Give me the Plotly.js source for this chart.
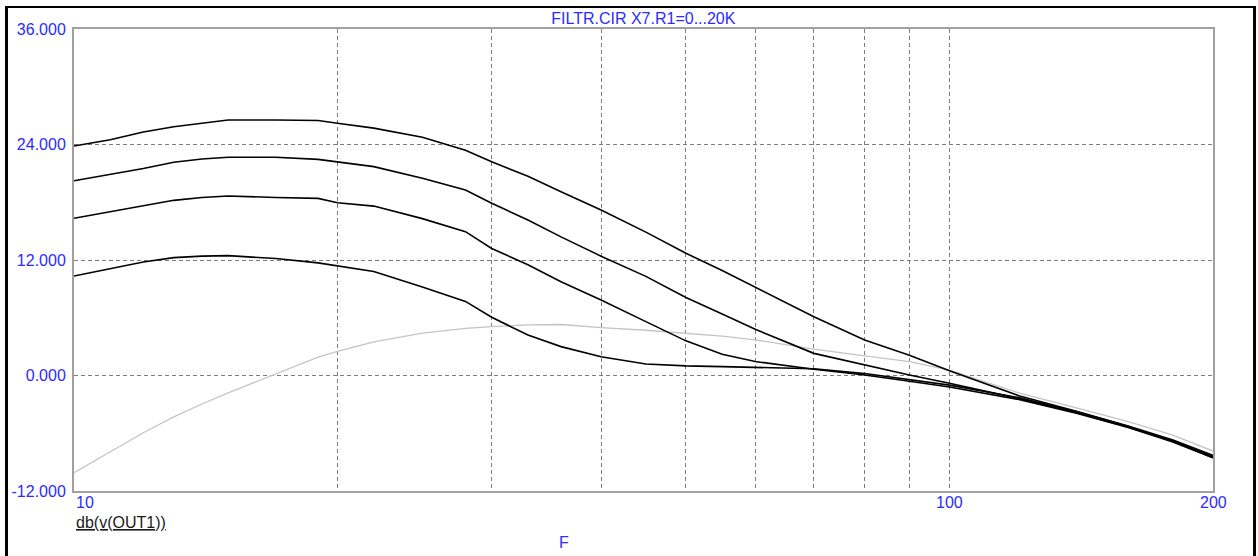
<!DOCTYPE html>
<html>
<head>
<meta charset="utf-8">
<script src="https://cdn.plot.ly/plotly-3.0.1.min.js"></script>
<style>
  html, body { margin: 0; padding: 0; background: #ffffff; overflow: hidden; }
  #chart { position: absolute; left: 0; top: 0; width: 1258px; height: 556px; }
  #frame { position: absolute; left: 5px; top: 6px; width: 1251px; height: 600px;
           box-sizing: border-box; border-left: 3px solid #000; border-right: 3px solid #000;
           border-top: 2px solid #000; pointer-events: none; }
</style>
</head>
<body>
<div id="chart"></div>
<div id="frame"></div>
<script>
// ---- data ----
const freq = [10, 11, 12, 13, 14, 15, 17, 19, 20, 22, 25, 28, 30, 33, 36, 40, 45, 50, 55, 60, 70, 80, 90, 100, 120, 140, 160, 180, 200];

// R1 stepped 0...20K (four black curves, top to bottom)
const dbR1a = [23.84, 24.5, 25.3, 25.85, 26.2, 26.55, 26.55, 26.5, 26.2, 25.7, 24.75, 23.4, 22.2, 20.7, 19.1, 17.2, 14.9, 12.7, 10.9, 9.15, 6.1, 3.7, 2.1, 0.5, -2.1, -3.75, -5.25, -6.7, -8.3];
const dbR1b = [20.24, 20.9, 21.5, 22.15, 22.5, 22.67, 22.67, 22.45, 22.2, 21.7, 20.5, 19.27, 17.9, 16.15, 14.4, 12.4, 10.3, 8.1, 6.4, 4.8, 2.3, 1.1, 0.05, -0.8, -2.4, -3.9, -5.35, -6.8, -8.45];
const dbR1c = [16.33, 17.0, 17.6, 18.2, 18.5, 18.65, 18.5, 18.4, 17.95, 17.6, 16.3, 14.95, 13.2, 11.5, 9.75, 7.85, 5.6, 3.6, 2.2, 1.45, 0.65, 0.05, -0.6, -1.2, -2.5, -3.95, -5.4, -6.9, -8.55];
const dbR1d = [10.34, 11.1, 11.8, 12.25, 12.4, 12.45, 12.15, 11.7, 11.4, 10.8, 9.2, 7.7, 6.05, 4.2, 3.0, 1.95, 1.2, 1.0, 0.92, 0.85, 0.7, 0.2, -0.4, -1.0, -2.3, -3.8, -5.3, -6.85, -8.55];
// light grey curve
const dbGrey = [-10.1, -7.9, -5.95, -4.3, -2.96, -1.8, 0.2, 1.9, 2.5, 3.5, 4.4, 4.9, 5.07, 5.25, 5.3, 4.97, 4.7, 4.4, 4.1, 3.7, 2.75, 2.05, 1.45, 0.55, -1.8, -3.4, -4.8, -6.2, -7.85];

const yTickVals = [-12, 0, 12, 24, 36];
const yTickText = ['-12.000', '0.000', '12.000', '24.000', '36.000'];
const xGridVals = [20, 30, 40, 50, 60, 70, 80, 90, 100];
const xLabelVals = [10, 100, 200];
const xLabelText = ['10', '100', '200'];
const titleText = 'FILTR.CIR X7.R1=0...20K';
const yName = 'db(v(OUT1))';
const xName = 'F';

// ---- styling ----
const FONT = 'Liberation Sans, Arial, sans-serif';
const BLUE = '#2b2bff';
const FS = 16;

const blackLine = { color: '#000000', width: 1.6 };
const traces = [
  { x: freq, y: dbGrey, mode: 'lines', line: { color: '#c4c4c4', width: 1.3 } },
  { x: freq, y: dbR1d, mode: 'lines', line: blackLine },
  { x: freq, y: dbR1c, mode: 'lines', line: blackLine },
  { x: freq, y: dbR1b, mode: 'lines', line: blackLine },
  { x: freq, y: dbR1a, mode: 'lines', line: blackLine }
];

const annotations = xLabelVals.map((v, i) => ({
  text: xLabelText[i], xref: 'x', yref: 'paper', x: Math.log10(v), y: -0.024,
  xanchor: i === 0 ? 'left' : 'center', yanchor: 'middle', showarrow: false,
  font: { family: FONT, size: FS, color: BLUE }
}));
annotations.push({
  text: '<u>' + yName + '</u>', xref: 'paper', yref: 'paper', x: 0, y: -0.069,
  xanchor: 'left', yanchor: 'middle', showarrow: false,
  font: { family: FONT, size: FS, color: '#1a1a1a' }
});
annotations.push({
  text: xName, xref: 'paper', yref: 'paper', x: 0.43, y: -0.112,
  xanchor: 'center', yanchor: 'middle', showarrow: false,
  font: { family: FONT, size: FS, color: BLUE }
});

const layout = {
  width: 1258, height: 556,
  margin: { l: 74, r: 45, t: 29, b: 65, pad: 0 },
  paper_bgcolor: 'rgba(0,0,0,0)', plot_bgcolor: '#ffffff',
  showlegend: false,
  title: { text: titleText, font: { family: FONT, size: FS, color: BLUE },
           x: 0.5114, xref: 'container', xanchor: 'center',
           y: 1 - 18.5 / 556, yref: 'container', yanchor: 'middle' },
  xaxis: {
    type: 'log', range: [Math.log10(10), Math.log10(200)],
    tickvals: xGridVals, showticklabels: false, ticks: '',
    showgrid: true, gridcolor: '#7c7c7c', gridwidth: 1, griddash: '4px,3px',
    showline: true, mirror: true, linecolor: '#a0a0a0', linewidth: 2, zeroline: false
  },
  yaxis: {
    range: [-12, 36], tickvals: yTickVals, ticktext: yTickText, ticks: '',
    tickfont: { family: FONT, size: FS, color: BLUE }, ticklabelstandoff: 3,
    showgrid: true, gridcolor: '#7c7c7c', gridwidth: 1, griddash: '4px,3px',
    showline: true, mirror: true, linecolor: '#a0a0a0', linewidth: 2, zeroline: false
  },
  annotations: annotations
};

Plotly.newPlot('chart', traces, layout, { staticPlot: true, displayModeBar: false });
</script>
</body>
</html>
